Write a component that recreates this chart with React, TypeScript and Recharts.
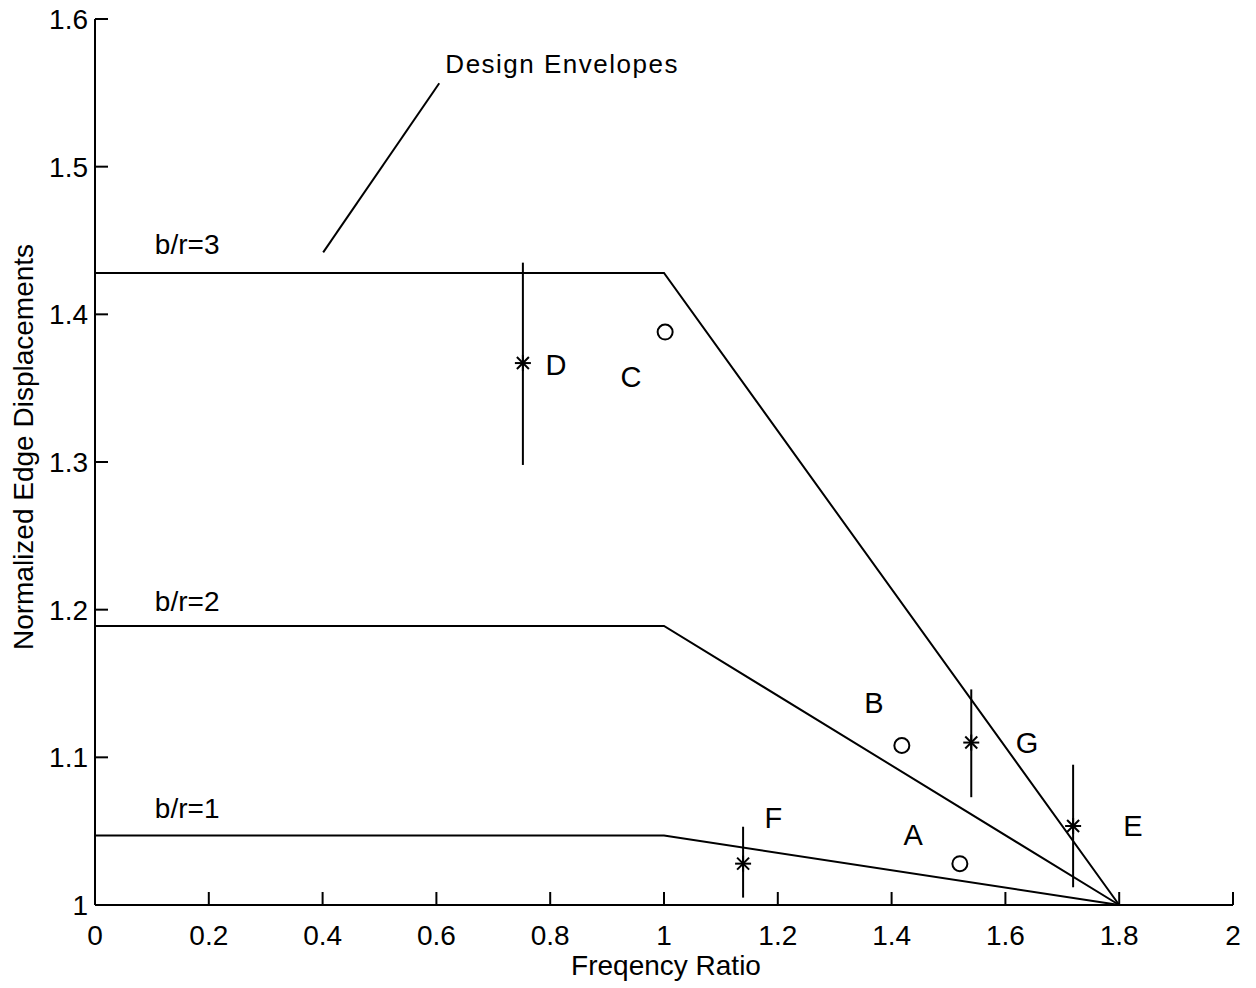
import React from "react";
import { ComposedChart, Line, Scatter, XAxis, YAxis, ErrorBar } from "recharts";

// axis ticks
const xTicks = [0, 0.2, 0.4, 0.6, 0.8, 1, 1.2, 1.4, 1.6, 1.8, 2];
const yTicks = [1, 1.1, 1.2, 1.3, 1.4, 1.5, 1.6];

// design envelopes for b/r = 3, 2, 1
const envelope3 = [
  { x: 0, y: 1.428 },
  { x: 1, y: 1.428 },
  { x: 1.8, y: 1 },
];
const envelope2 = [
  { x: 0, y: 1.189 },
  { x: 1, y: 1.189 },
  { x: 1.8, y: 1 },
];
const envelope1 = [
  { x: 0, y: 1.047 },
  { x: 1, y: 1.047 },
  { x: 1.8, y: 1 },
];

// pointer from the "Design Envelopes" note
const leader = [
  { x: 0.401, y: 1.442 },
  { x: 0.605, y: 1.5565 },
];

// measured points (open circles): C, B, A
const circlePoints = [
  { x: 1.002, y: 1.388 },
  { x: 1.418, y: 1.108 },
  { x: 1.52, y: 1.028 },
];

// measured points with ranges (asterisks): D, G, E, F
const starX = [0.752, 1.54, 1.719, 1.139];
const starY = [1.367, 1.11, 1.0535, 1.028];
const starLow = [1.298, 1.073, 1.012, 1.005];
const starHigh = [1.435, 1.146, 1.095, 1.053];

// text annotations
const letterLabels = [
  { x: 0.81, y: 1.366, text: "D" },
  { x: 0.942, y: 1.358, text: "C" },
  { x: 1.369, y: 1.137, text: "B" },
  { x: 1.638, y: 1.11, text: "G" },
  { x: 1.824, y: 1.0535, text: "E" },
  { x: 1.192, y: 1.059, text: "F" },
  { x: 1.438, y: 1.048, text: "A" },
];
const ratioLabels = [
  { x: 0.162, y: 1.4475, text: "b/r=3" },
  { x: 0.162, y: 1.206, text: "b/r=2" },
  { x: 0.162, y: 1.066, text: "b/r=1" },
];
const noteLabel = [{ x: 0.821, y: 1.57, text: "Design Envelopes" }];

const starPoints = starX.map((x, i) => ({
  x,
  y: starY[i],
  err: [starY[i] - starLow[i], starHigh[i] - starY[i]],
}));

const FONT = "'Liberation Sans', Arial, Helvetica, sans-serif";

const XTick = (props: any) => {
  const { x, y, payload } = props;
  return (
    <g>
      <line x1={x} x2={x} y1={y} y2={y - 13} stroke="#000" strokeWidth={2} />
      <text x={x} y={y + 40} textAnchor="middle" fontSize={28} fontFamily={FONT} fill="#000">
        {String(payload.value)}
      </text>
    </g>
  );
};

const YTick = (props: any) => {
  const { x, y, payload } = props;
  return (
    <g>
      <line x1={x} x2={x + 13} y1={y} y2={y} stroke="#000" strokeWidth={2} />
      <text x={x - 7} y={y} dy="0.36em" textAnchor="end" fontSize={28} fontFamily={FONT} fill="#000">
        {String(payload.value)}
      </text>
    </g>
  );
};

const Circle = (p: any) => (
  <circle cx={p.cx} cy={p.cy} r={7.5} fill="none" stroke="#000" strokeWidth={2} />
);

const Star = (p: any) => {
  const r = 8;
  const d = 6;
  return (
    <g stroke="#000" strokeWidth={2}>
      <line x1={p.cx - r} x2={p.cx + r} y1={p.cy} y2={p.cy} />
      <line x1={p.cx} x2={p.cx} y1={p.cy - r} y2={p.cy + r} />
      <line x1={p.cx - d} x2={p.cx + d} y1={p.cy - d} y2={p.cy + d} />
      <line x1={p.cx - d} x2={p.cx + d} y1={p.cy + d} y2={p.cy - d} />
    </g>
  );
};

const textShape = (size: number, spacing = 0) => (p: any) => (
  <text
    x={p.cx}
    y={p.cy}
    dy="0.36em"
    textAnchor="middle"
    fontSize={size}
    letterSpacing={spacing}
    fontFamily={FONT}
    fill="#000"
  >
    {p.payload.text}
  </text>
);

export default function App() {
  return (
    <div style={{ position: "absolute", left: 0, top: 0, background: "#fff" }}>
      <ComposedChart width={1256} height={988} margin={{ top: 19, right: 23, left: 0, bottom: 0 }}>
        <XAxis
          dataKey="x"
          type="number"
          domain={[0, 2]}
          ticks={xTicks}
          interval={0}
          height={83}
          tickSize={0}
          tickMargin={0}
          tickLine={false}
          tick={<XTick />}
          axisLine={{ stroke: "#000", strokeWidth: 2 }}
          label={{
            content: (lp: any) => {
              const vb = lp.viewBox;
              return (
                <text
                  x={vb.x + vb.width / 2 + 2}
                  y={975}
                  textAnchor="middle"
                  fontSize={28}
                  fontFamily={FONT}
                  fill="#000"
                >
                  Freqency Ratio
                </text>
              );
            },
          }}
        />
        <YAxis
          dataKey="y"
          type="number"
          domain={[1, 1.6]}
          ticks={yTicks}
          interval={0}
          width={95}
          tickSize={0}
          tickMargin={0}
          tickLine={false}
          tick={<YTick />}
          axisLine={{ stroke: "#000", strokeWidth: 2 }}
          label={{
            content: (lp: any) => {
              const vb = lp.viewBox;
              const cy = vb.y + vb.height / 2 - 15;
              return (
                <text
                  x={33}
                  y={cy}
                  transform={`rotate(-90, 33, ${cy})`}
                  textAnchor="middle"
                  fontSize={28}
                  fontFamily={FONT}
                  fill="#000"
                >
                  Normalized Edge Displacements
                </text>
              );
            },
          }}
        />
        <Line data={envelope3} dataKey="y" type="linear" stroke="#000" strokeWidth={2} dot={false} isAnimationActive={false} />
        <Line data={envelope2} dataKey="y" type="linear" stroke="#000" strokeWidth={2} dot={false} isAnimationActive={false} />
        <Line data={envelope1} dataKey="y" type="linear" stroke="#000" strokeWidth={2} dot={false} isAnimationActive={false} />
        <Line data={leader} dataKey="y" type="linear" stroke="#000" strokeWidth={2} dot={false} isAnimationActive={false} />
        <Scatter data={circlePoints} shape={Circle} isAnimationActive={false} />
        <Scatter data={starPoints} shape={Star} isAnimationActive={false}>
          <ErrorBar dataKey="err" direction="y" width={0} stroke="#000" strokeWidth={2} />
        </Scatter>
        <Scatter data={letterLabels} shape={textShape(29)} isAnimationActive={false} />
        <Scatter data={ratioLabels} shape={textShape(28)} isAnimationActive={false} />
        <Scatter data={noteLabel} shape={textShape(26, 1.5)} isAnimationActive={false} />
      </ComposedChart>
    </div>
  );
}
